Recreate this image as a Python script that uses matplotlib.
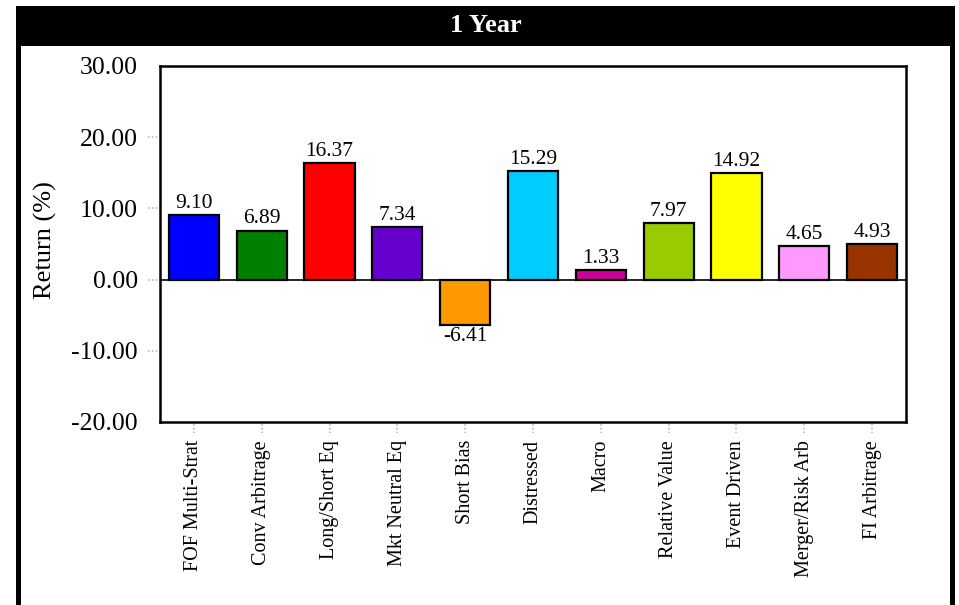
import matplotlib
matplotlib.use("Agg")
import matplotlib.pyplot as plt
from matplotlib.patches import Rectangle

categories = ["FOF Multi-Strat", "Conv Arbitrage", "Long/Short Eq", "Mkt Neutral Eq",
              "Short Bias", "Distressed", "Macro", "Relative Value", "Event Driven",
              "Merger/Risk Arb", "FI Arbitrage"]
values = [9.10, 6.89, 16.37, 7.34, -6.41, 15.29, 1.33, 7.97, 14.92, 4.65, 4.93]
colors = ["#0000FF", "#008000", "#FF0000", "#6600CC", "#FF9900", "#00CCFF",
          "#CC0099", "#99CC00", "#FFFF00", "#FF99FF", "#993300"]
yticks = [-20, -10, 0, 10, 20, 30]
title = "1 Year"
ylabel = "Return (%)"

plt.rcParams['font.family'] = ['Liberation Serif', 'DejaVu Serif']

W, H = 959, 605
fig = plt.figure(figsize=(W / 100, H / 100), dpi=100)

def fx(px):
    return px / W

def fy(py):
    return 1 - py / H

# outer frame and title bar
fig.add_artist(Rectangle((fx(16), fy(46)), fx(955) - fx(16), fy(6) - fy(46),
                         transform=fig.transFigure, facecolor="black", edgecolor="none"))
fig.add_artist(Rectangle((fx(16), 0), fx(5), fy(46),
                         transform=fig.transFigure, facecolor="black", edgecolor="none"))
fig.add_artist(Rectangle((fx(950), 0), fx(5), fy(46),
                         transform=fig.transFigure, facecolor="black", edgecolor="none"))
fig.text(fx(486), fy(26), title, color="white", fontsize=19, fontweight="bold",
         ha="center", va="center")

L, R, T, B = 160, 906, 66, 422
ax = fig.add_axes([fx(L), fy(B), fx(R) - fx(L), fy(T) - fy(B)])

x = list(range(len(categories)))
ax.bar(x, values, width=0.74, color=colors, edgecolor="black", linewidth=1.6, zorder=3)
ax.axhline(0, color="black", linewidth=1.2, zorder=2)

for xi, v in zip(x, values):
    if v >= 0:
        ax.annotate(f"{v:.2f}", (xi, v), xytext=(0, 1.5), textcoords="offset points",
                    ha="center", va="bottom", fontsize=15.5)
    else:
        ax.annotate(f"{v:.2f}", (xi, v), xytext=(0, -1.5), textcoords="offset points",
                    ha="center", va="top", fontsize=15.5)

ax.set_xlim(-0.5, len(categories) - 0.5)
ax.set_ylim(yticks[0], yticks[-1])
ax.set_yticks(yticks)
ax.set_yticklabels([f"{t:.2f}" for t in yticks], fontsize=18.5)
ax.set_xticks(x)
ax.set_xticklabels(categories, rotation=90, fontsize=14.5)
ax.tick_params(axis="y", length=0, pad=16)
ax.tick_params(axis="x", length=0, pad=13)

for s in ax.spines.values():
    s.set_linewidth(1.8)
    s.set_color("black")

# dotted tick marks
ytr = ax.get_yaxis_transform()
aw = R - L
for t in yticks[1:-1]:
    ax.plot([-12 / aw, -2 / aw], [t, t], transform=ytr, clip_on=False,
            color="#b0b0b0", linewidth=1.1, linestyle=(0, (1, 1.5)))
xtr = ax.get_xaxis_transform()
ah = B - T
for xi in x:
    ax.plot([xi, xi], [-2 / ah, -11 / ah], transform=xtr, clip_on=False,
            color="#b0b0b0", linewidth=1.1, linestyle=(0, (1, 1.5)))

fig.text(fx(45), fy(240), ylabel, rotation=90, fontsize=19, ha="center", va="center")

fig.savefig("out.png", dpi=100)
